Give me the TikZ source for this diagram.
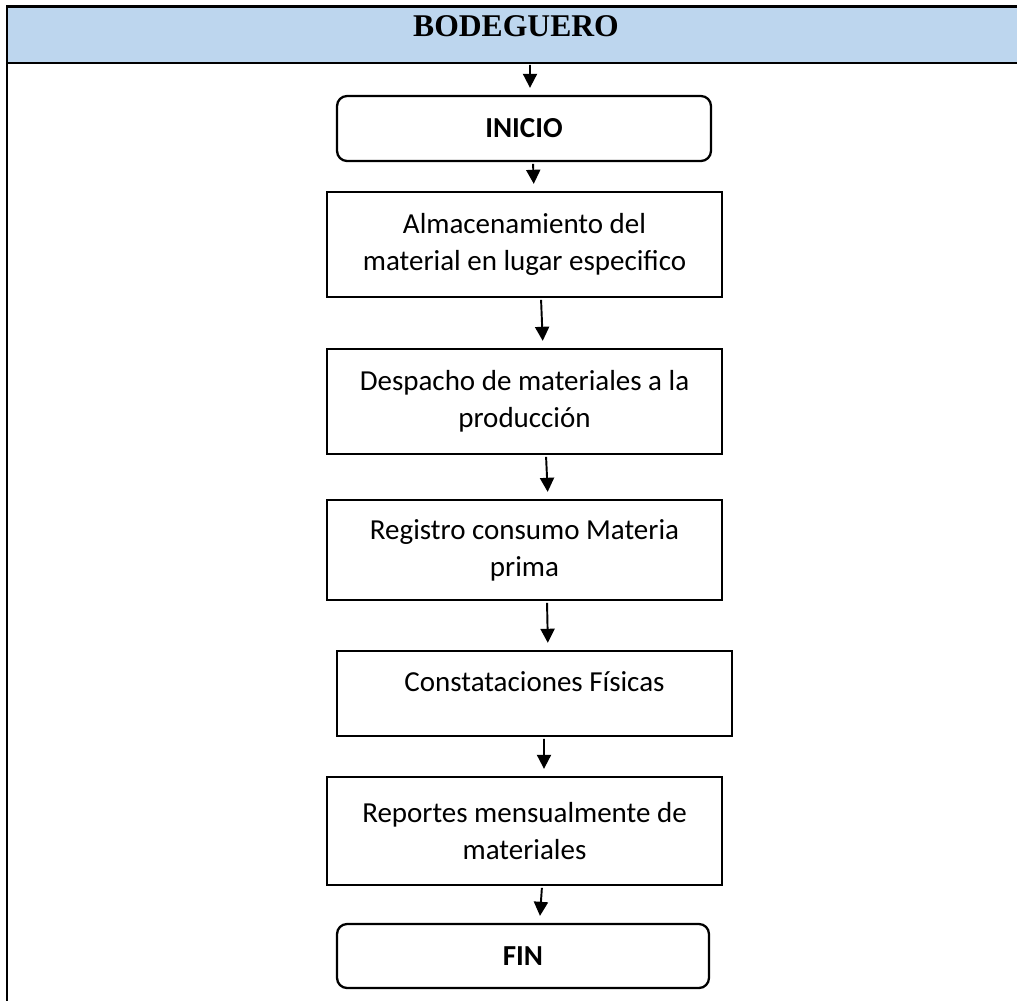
\documentclass[tikz,border=0pt]{standalone}
\usepackage{fontspec}
\setmainfont{Carlito}
\newfontfamily\titlefont{Liberation Serif}
\usetikzlibrary{arrows.meta}
\definecolor{headblue}{RGB}{189,214,238}

\begin{document}
\begin{tikzpicture}[x=0.02cm,y=-0.02cm]
      \useasboundingbox (0,0) rectangle (1017,1001);

      \fill[headblue] (7,6.5) rectangle (1017,63);
      \draw[line width=1.3pt] (1017,6.5) -- (7,6.5) -- (7,1001);
      \draw[line width=1.3pt] (7,63) -- (1017,63);
      \node (0) at (516,26) {\titlefont\fontsize{18}{22}\selectfont\bfseries BODEGUERO};
      \coordinate (h) at (530,63);

      \begin{scope}[every node/.style={draw, line width=1.3pt, align=center,
          font=\fontsize{16.5}{21}\selectfont, minimum width=7.9cm}]
        \node[rounded corners=0.2cm, minimum width=7.48cm, minimum height=1.3cm,
          font=\fontsize{16.5}{21}\selectfont\bfseries] (1) at (524,128.5) {INICIO};
        \node[minimum height=2.1cm] (2) at (524.5,244.5) {Almacenamiento del\\material en lugar especifico};
        \node[minimum height=2.1cm] (3) at (524.5,401.5) {Despacho de materiales a la\\producción};
        \node[minimum height=2cm] (4) at (524.5,550) {Registro consumo Materia\\prima};
        \node[minimum height=1.7cm] (5) at (534.5,693.5) {\raisebox{14pt}{Constataciones Físicas}};
        \node[minimum height=2.16cm] (6) at (524.5,831) {Reportes mensualmente de\\materiales};
        \node[rounded corners=0.2cm, minimum width=7.44cm, minimum height=1.28cm,
          font=\fontsize{16.5}{21}\selectfont\bfseries] (7) at (523,956) {FIN};
      \end{scope}

      \begin{scope}[every edge/.style={draw, line width=1.1pt, -{Triangle[length=8pt,width=8pt]},
          shorten <=1pt, shorten >=4pt}]
        \path (h) edge ([xshift=0.12cm]1.north);
        \path ([xshift=0.18cm]1.south) edge ([xshift=0.19cm]2.north);
        \path ([xshift=0.33cm]2.south) edge ([xshift=0.37cm]3.north);
        \path ([xshift=0.43cm]3.south) edge ([xshift=0.47cm]4.north);
        \path ([xshift=0.45cm]4.south) edge ([xshift=0.27cm]5.north);
        \path ([xshift=0.19cm]5.south) edge ([xshift=0.39cm]6.north);
        \path ([xshift=0.35cm]6.south) edge ([xshift=0.33cm]7.north);
      \end{scope}

    \end{tikzpicture}
\end{document}
